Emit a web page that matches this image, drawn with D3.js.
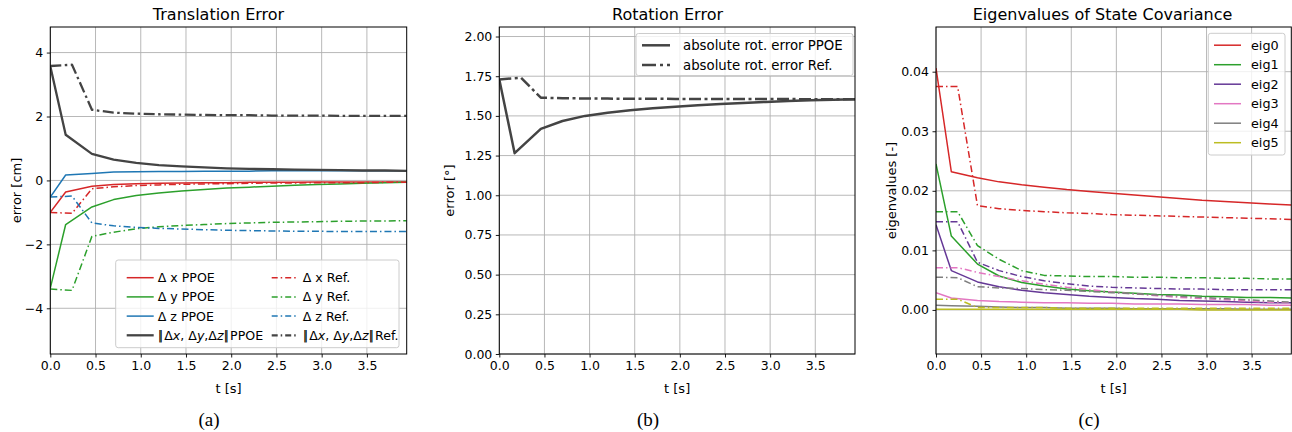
<!DOCTYPE html>
<html>
<head>
<meta charset="utf-8">
<script src="https://cdn.jsdelivr.net/npm/d3@7"></script>
<style>
  body { margin: 0; background: #fff; }
  svg { display: block; font-family: "DejaVu Sans", sans-serif; }
</style>
</head>
<body>
<div class="canvas"></div>
<script>
// sample times (s)
const tPPOE = [0, 0.17, 0.46, 0.70, 0.95, 1.2, 1.45, 1.7, 1.95, 2.2, 2.45, 2.7, 2.95, 3.2, 3.45, 3.7, 3.94];
const tRef = [0, 0.24, 0.46, 0.70, 0.95, 1.2, 1.45, 1.7, 1.95, 2.2, 2.45, 2.7, 2.95, 3.2, 3.45, 3.7, 3.94];

// (a) translation error [cm]
const dxPPOE = [-1.0, -0.36, -0.18, -0.13, -0.1, -0.09, -0.08, -0.07, -0.07, -0.06, -0.06, -0.06, -0.05, -0.05, -0.05, -0.05, -0.05];
const dyPPOE = [-3.37, -1.38, -0.83, -0.6, -0.47, -0.39, -0.33, -0.28, -0.24, -0.21, -0.18, -0.15, -0.13, -0.11, -0.09, -0.07, -0.06];
const dzPPOE = [-0.52, 0.17, 0.22, 0.26, 0.27, 0.28, 0.28, 0.29, 0.29, 0.29, 0.3, 0.3, 0.3, 0.3, 0.3, 0.3, 0.3];
const normPPOE = [3.57, 1.43, 0.83, 0.65, 0.55, 0.48, 0.44, 0.41, 0.38, 0.36, 0.35, 0.34, 0.33, 0.32, 0.31, 0.31, 0.3];
const dxRef = [-1.0, -1.03, -0.26, -0.2, -0.16, -0.14, -0.12, -0.11, -0.1, -0.09, -0.08, -0.08, -0.07, -0.07, -0.07, -0.06, -0.06];
const dyRef = [-3.4, -3.44, -1.75, -1.62, -1.51, -1.45, -1.41, -1.38, -1.35, -1.33, -1.31, -1.3, -1.29, -1.28, -1.27, -1.27, -1.26];
const dzRef = [-0.52, -0.49, -1.33, -1.42, -1.47, -1.5, -1.52, -1.54, -1.56, -1.57, -1.58, -1.59, -1.59, -1.6, -1.6, -1.6, -1.6];
const normRef = [3.58, 3.62, 2.21, 2.12, 2.09, 2.07, 2.06, 2.05, 2.04, 2.04, 2.03, 2.03, 2.03, 2.02, 2.02, 2.02, 2.02];

// (b) rotation error [deg]
const rotPPOE = [1.73, 1.265, 1.418, 1.468, 1.5, 1.52, 1.535, 1.548, 1.558, 1.567, 1.575, 1.582, 1.588, 1.594, 1.598, 1.602, 1.605];
const rotRef = [1.73, 1.74, 1.615, 1.611, 1.61, 1.609, 1.608, 1.608, 1.607, 1.607, 1.607, 1.606, 1.606, 1.606, 1.605, 1.605, 1.605];

// (c) eigenvalues of state covariance
const eig0PPOE = [0.0406, 0.0232, 0.0222, 0.0215, 0.021, 0.0206, 0.0202, 0.0199, 0.0196, 0.0193, 0.019, 0.0187, 0.0184, 0.0182, 0.018, 0.0178, 0.0176];
const eig0Ref = [0.0375, 0.0375, 0.0175, 0.017, 0.0167, 0.0165, 0.0163, 0.0162, 0.016, 0.0159, 0.0158, 0.0157, 0.0156, 0.0155, 0.0154, 0.0153, 0.0152];
const eig1PPOE = [0.0245, 0.0124, 0.0077, 0.0057, 0.0046, 0.004, 0.0035, 0.0032, 0.003, 0.0028, 0.0026, 0.0025, 0.0023, 0.0022, 0.0021, 0.0021, 0.002];
const eig1Ref = [0.0165, 0.0165, 0.0108, 0.0085, 0.0066, 0.0058, 0.0057, 0.0056, 0.0056, 0.0055, 0.0055, 0.0054, 0.0054, 0.0053, 0.0053, 0.0052, 0.0052];
const eig2PPOE = [0.0143, 0.0066, 0.0047, 0.0039, 0.0033, 0.0029, 0.0026, 0.0023, 0.0021, 0.0019, 0.0018, 0.0016, 0.0015, 0.0014, 0.0013, 0.0012, 0.0012];
const eig2Ref = [0.0148, 0.0148, 0.008, 0.0066, 0.0056, 0.0049, 0.0044, 0.004, 0.0038, 0.0037, 0.0036, 0.0035, 0.0035, 0.0034, 0.0034, 0.0034, 0.0034];
const eig3PPOE = [0.0029, 0.002, 0.0016, 0.0014, 0.0013, 0.0012, 0.0012, 0.0011, 0.0011, 0.001, 0.001, 0.001, 0.0009, 0.0009, 0.0009, 0.0008, 0.0008];
const eig3Ref = [0.0071, 0.0071, 0.0063, 0.0056, 0.0049, 0.0043, 0.0038, 0.0034, 0.003, 0.0027, 0.0024, 0.0021, 0.0019, 0.0017, 0.0015, 0.0013, 0.0012];
const eig4PPOE = [0.0008, 0.0007, 0.0006, 0.0005, 0.0004, 0.0004, 0.0003, 0.0003, 0.0003, 0.0002, 0.0002, 0.0002, 0.0002, 0.0002, 0.0001, 0.0001, 0.0001];
const eig4Ref = [0.0055, 0.0054, 0.0039, 0.0037, 0.0036, 0.0034, 0.0033, 0.0031, 0.0029, 0.0027, 0.0025, 0.0023, 0.0021, 0.0019, 0.0017, 0.0015, 0.0013];
const eig5PPOE = [0.0001, 0.0001, 0.0001, 0.0001, 0.0001, 0.0001, 0.0001, 0.0001, 0.0001, 0.0001, 0.0001, 0.0001, 0.0, 0.0, 0.0, 0.0, 0.0];
const eig5Ref = [0.0018, 0.0018, 0.0004, 0.0004, 0.0004, 0.0004, 0.0003, 0.0003, 0.0003, 0.0003, 0.0003, 0.0003, 0.0003, 0.0003, 0.0003, 0.0003, 0.0003];

// tick labels
const xTicks = [0, 0.5, 1, 1.5, 2, 2.5, 3, 3.5];
const yTicksA = [-4, -2, 0, 2, 4];
const yTicksB = [0, 0.25, 0.5, 0.75, 1, 1.25, 1.5, 1.75, 2];
const yTicksC = [0, 0.01, 0.02, 0.03, 0.04];

const col = {
  red: "#d62728", green: "#2ca02c", blue: "#1f77b4", dark: "#444444",
  purple: "#653896", pink: "#e377c2", gray: "#7f7f7f", olive: "#bcbd22"
};
const DD = "7,3,1.5,3";       // thin dash-dot
const DDthick = "11,3.5,2.5,3.5";

const plotTop = 27, plotBottom = 354;

const svg = d3
  .select(".canvas")
  .append("svg")
  .attr("width", 1292)
  .attr("height", 432);

const minus = (s) => s.replace("-", "\u2212");

// draw one panel
const drawPanel = (p, idx) => {
  const x = d3.scaleLinear().domain([0, 3.94]).range([p.left, p.right]);
  const y = d3.scaleLinear().domain(p.yDomain).range([plotBottom, plotTop]);
  const g = svg.append("g");

  g.append("clipPath").attr("id", "clip" + idx)
    .append("rect")
    .attr("x", p.left).attr("y", plotTop)
    .attr("width", p.right - p.left).attr("height", plotBottom - plotTop);

  // grid
  g.append("g").selectAll("line").data(xTicks).join("line")
    .attr("x1", (d) => x(d)).attr("x2", (d) => x(d))
    .attr("y1", plotTop).attr("y2", plotBottom)
    .attr("stroke", "#b0b0b0").attr("stroke-width", 0.9);
  g.append("g").selectAll("line").data(p.yTicks).join("line")
    .attr("x1", p.left).attr("x2", p.right)
    .attr("y1", (d) => y(d)).attr("y2", (d) => y(d))
    .attr("stroke", "#b0b0b0").attr("stroke-width", 0.9);

  // lines
  const line = (t) => d3.line().x((d, i) => x(t[i])).y((d) => y(d));
  g.append("g").attr("clip-path", `url(#clip${idx})`)
    .selectAll("path").data(p.series).join("path")
    .attr("d", (s) => line(s.t)(s.v))
    .attr("fill", "none")
    .attr("stroke", (s) => s.color)
    .attr("stroke-width", (s) => s.w)
    .attr("stroke-dasharray", (s) => s.dash || null)
    .attr("stroke-linejoin", "round");

  // axes
  const xAxis = g.append("g")
    .attr("transform", `translate(0,${plotBottom})`)
    .call(d3.axisBottom(x).tickValues(xTicks).tickFormat(d3.format(".1f")).tickSize(3.5).tickPadding(3.5));
  const yAxis = g.append("g")
    .attr("transform", `translate(${p.left},0)`)
    .call(d3.axisLeft(y).tickValues(p.yTicks).tickFormat((d) => minus(p.fmt(d))).tickSize(3.5).tickPadding(3.5));
  [xAxis, yAxis].forEach((a) => {
    a.select(".domain").remove();
    a.selectAll("text").attr("font-size", 12.5).attr("fill", "#000")
      .attr("font-family", "DejaVu Sans, sans-serif");
    a.selectAll("line").attr("stroke", "#000").attr("stroke-width", 0.9);
  });

  // spines
  g.append("rect")
    .attr("x", p.left).attr("y", plotTop)
    .attr("width", p.right - p.left).attr("height", plotBottom - plotTop)
    .attr("fill", "none").attr("stroke", "#000").attr("stroke-width", 1);

  // title & labels
  g.append("text").attr("x", p.titleX).attr("y", 19.5)
    .attr("text-anchor", "middle").attr("font-size", 16).text(p.title);
  g.append("text").attr("x", (p.left + p.right) / 2).attr("y", 393)
    .attr("text-anchor", "middle").attr("font-size", 13).text("t [s]");
  g.append("text")
    .attr("transform", `translate(${p.ylabelX},${(plotTop + plotBottom) / 2}) rotate(-90)`)
    .attr("text-anchor", "middle").attr("dy", "0.35em")
    .attr("font-size", 13).text(p.ylabel);
  g.append("text").attr("x", p.capX).attr("y", 426)
    .attr("text-anchor", "middle")
    .attr("font-family", "Liberation Serif, serif")
    .attr("font-size", 19).text(p.caption);

  // legend
  const L = p.legend;
  const lg = g.append("g");
  lg.append("rect")
    .attr("x", L.x).attr("y", L.y).attr("width", L.w).attr("height", L.h)
    .attr("rx", 2.5)
    .attr("fill", "#fff").attr("fill-opacity", 0.8)
    .attr("stroke", "#cccccc").attr("stroke-width", 1);
  L.items.forEach((it) => {
    const s = p.series[it.s];
    const ry = L.y + L.row0 + it.r * L.rowH;
    const hx = L.x + L.colX[it.c];
    lg.append("line")
      .attr("x1", hx).attr("x2", hx + L.hLen)
      .attr("y1", ry).attr("y2", ry)
      .attr("stroke", s.color).attr("stroke-width", s.w)
      .attr("stroke-dasharray", s.dash ? L.hDash || s.dash : null);
    const tx = lg.append("text")
      .attr("x", hx + L.hLen + L.gap).attr("y", ry)
      .attr("dy", "0.36em").attr("font-size", L.fs)
      .attr("fill", "#000");
    it.label.forEach((part) => {
      tx.append("tspan")
        .attr("font-style", part.i ? "italic" : null)
        .attr("letter-spacing", part.bar ? -3 : null)
        .text(part.t);
    });
  });
};

const normLabel = (tail) => [
  { t: "||", bar: 1 }, { t: "\u00a0\u0394" }, { t: "x", i: 1 }, { t: ", \u0394" }, { t: "y", i: 1 },
  { t: ",\u0394" }, { t: "z", i: 1 }, { t: "||", bar: 1 }, { t: "\u00a0" + tail }
];

// panel (a)
drawPanel({
  left: 50.3, right: 406.7, yDomain: [-5.43, 4.8], yTicks: yTicksA,
  fmt: d3.format("d"),
  title: "Translation Error", titleX: 218.5, ylabel: "error [cm]", ylabelX: 16,
  caption: "(a)", capX: 209,
  series: [
    { t: tPPOE, v: dxPPOE, color: col.red, w: 1.5 },
    { t: tPPOE, v: dyPPOE, color: col.green, w: 1.5 },
    { t: tPPOE, v: dzPPOE, color: col.blue, w: 1.5 },
    { t: tPPOE, v: normPPOE, color: col.dark, w: 2.3 },
    { t: tRef, v: dxRef, color: col.red, w: 1.5, dash: DD },
    { t: tRef, v: dyRef, color: col.green, w: 1.5, dash: DD },
    { t: tRef, v: dzRef, color: col.blue, w: 1.5, dash: DD },
    { t: tRef, v: normRef, color: col.dark, w: 2.3, dash: DDthick }
  ],
  legend: {
    x: 115.7, y: 260, w: 283.3, h: 87.7, row0: 17.7, rowH: 19.2,
    colX: [11, 156], hLen: 27, gap: 4, fs: 12.6, hDash: "6,3,1.5,3",
    items: [
      { s: 0, c: 0, r: 0, label: [{ t: "\u0394 x PPOE" }] },
      { s: 1, c: 0, r: 1, label: [{ t: "\u0394 y PPOE" }] },
      { s: 2, c: 0, r: 2, label: [{ t: "\u0394 z PPOE" }] },
      { s: 3, c: 0, r: 3, label: normLabel("PPOE") },
      { s: 4, c: 1, r: 0, label: [{ t: "\u0394 x Ref." }] },
      { s: 5, c: 1, r: 1, label: [{ t: "\u0394 y Ref." }] },
      { s: 6, c: 1, r: 2, label: [{ t: "\u0394 z Ref." }] },
      { s: 7, c: 1, r: 3, label: normLabel("Ref.") }
    ]
  }
}, 0);

// panel (b)
drawPanel({
  left: 499.3, right: 855, yDomain: [0, 2.06], yTicks: yTicksB,
  fmt: d3.format(".2f"),
  title: "Rotation Error", titleX: 667.5, ylabel: "error [\u00b0]", ylabelX: 449,
  caption: "(b)", capX: 648,
  series: [
    { t: tPPOE, v: rotPPOE, color: col.dark, w: 2.5 },
    { t: tRef, v: rotRef, color: col.dark, w: 2.5, dash: "12,3.5,3,3.5" }
  ],
  legend: {
    x: 636, y: 33.5, w: 217, h: 42, row0: 11.8, rowH: 19.7,
    colX: [6], hLen: 28, gap: 13, fs: 13.3, hDash: "14,4,3,4",
    items: [
      { s: 0, c: 0, r: 0, label: [{ t: "absolute rot. error PPOE" }] },
      { s: 1, c: 0, r: 1, label: [{ t: "absolute rot. error Ref." }] }
    ]
  }
}, 1);

// panel (c)
drawPanel({
  left: 936, right: 1291.3, yDomain: [-0.0074, 0.0475], yTicks: yTicksC,
  fmt: d3.format(".2f"),
  title: "Eigenvalues of State Covariance", titleX: 1102.5, ylabel: "eigenvalues [-]", ylabelX: 891,
  caption: "(c)", capX: 1089,
  series: [
    { t: tPPOE, v: eig0PPOE, color: col.red, w: 1.5 },
    { t: tPPOE, v: eig1PPOE, color: col.green, w: 1.5 },
    { t: tPPOE, v: eig2PPOE, color: col.purple, w: 1.5 },
    { t: tPPOE, v: eig3PPOE, color: col.pink, w: 1.5 },
    { t: tPPOE, v: eig4PPOE, color: col.gray, w: 1.5 },
    { t: tPPOE, v: eig5PPOE, color: col.olive, w: 1.5 },
    { t: tRef, v: eig0Ref, color: col.red, w: 1.5, dash: DD },
    { t: tRef, v: eig1Ref, color: col.green, w: 1.5, dash: DD },
    { t: tRef, v: eig2Ref, color: col.purple, w: 1.5, dash: DD },
    { t: tRef, v: eig3Ref, color: col.pink, w: 1.5, dash: DD },
    { t: tRef, v: eig4Ref, color: col.gray, w: 1.5, dash: DD },
    { t: tRef, v: eig5Ref, color: col.olive, w: 1.5, dash: DD }
  ],
  legend: {
    x: 1208.3, y: 33.3, w: 76.7, h: 121.7, row0: 11.9, rowH: 19.5,
    colX: [5.7], hLen: 27, gap: 10, fs: 12.8,
    items: [0, 1, 2, 3, 4, 5].map((k) => ({ s: k, c: 0, r: k, label: [{ t: "eig" + k }] }))
  }
}, 2);
</script>
</body>
</html>
